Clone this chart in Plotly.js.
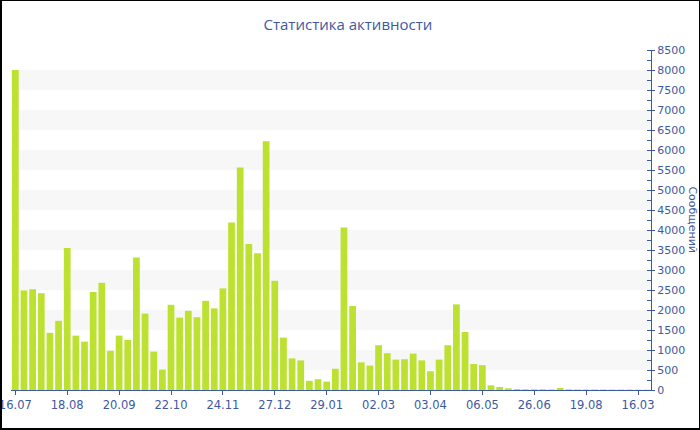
<!DOCTYPE html>
<html>
<head>
<meta charset="utf-8">
<script src="https://cdn.plot.ly/plotly-3.0.1.min.js"></script>
<style>
  html, body { margin: 0; padding: 0; background: #fff; }
  #wrap { position: relative; width: 700px; height: 430px; }
  #chart { width: 700px; height: 430px; }
  #frame { position: absolute; left: 0; top: 0; width: 700px; height: 430px; box-sizing: border-box;
           border: 1px solid #000; border-left-width: 2px; border-bottom-width: 2px; pointer-events: none; }
</style>
</head>
<body>
<div id="wrap"><div id="chart"></div><div id="frame"></div></div>
<script>
const chartTitle = "Статистика активности";
const yTitle = "Сообщений";
const tickLabels = ["16.07", "18.08", "20.09", "22.10", "24.11", "27.12", "29.01", "02.03", "03.04", "06.05", "26.06", "19.08", "16.03"];
const messages = [
  8000, 2490, 2520, 2420, 1430, 1730, 3550, 1360, 1210, 2450,
  2680, 980, 1360, 1250, 3310, 1910, 960, 510, 2130, 1810,
  1980, 1820, 2230, 2040, 2540, 4190, 5560, 3650, 3420, 6220,
  2730, 1310, 790, 740, 230, 270, 210, 530, 4060, 2100,
  690, 610, 1120, 920, 760, 770, 910, 740, 470, 760,
  1120, 2140, 1450, 650, 620, 117, 75, 42, 25, 20,
  18, 20, 15, 50, 18, 15, 15, 15, 15, 12,
  12, 12, 12, 10
];
const ticksEvery = 6;
const yMax = 8500;
const bandStep = 500;

const xIdx = messages.map((_, i) => i);
const tickVals = tickLabels.map((_, i) => i * ticksEvery);

const textColor = "#3d59a1";
const shapes = [];
for (let v = bandStep; v + bandStep <= yMax; v += 2 * bandStep) {
  shapes.push({type: "rect", xref: "paper", yref: "y", x0: 0, x1: 1, y0: v, y1: v + bandStep,
               fillcolor: "#f7f7f7", line: {width: 0}, layer: "below"});
}

const trace = {
  type: "bar", x: xIdx, y: messages,
  marker: {color: "#bde130", line: {width: 0}},
  hoverinfo: "skip"
};

const layout = {
  width: 700, height: 430,
  margin: {l: 11, r: 49, t: 50, b: 40},
  paper_bgcolor: "#fff", plot_bgcolor: "rgba(0,0,0,0)",
  showlegend: false,
  bargap: 0.22,
  title: {text: chartTitle, x: 0.497, xanchor: "center", y: 0.942, yanchor: "middle",
          font: {family: "Open Sans, sans-serif", size: 15, color: textColor}},
  xaxis: {
    type: "linear", range: [-0.5, messages.length - 0.5],
    tickmode: "array", tickvals: tickVals, ticktext: tickLabels,
    ticklabeloverflow: "allow",
    ticks: "outside", ticklen: 4, tickcolor: textColor,
    showline: true, linecolor: textColor, linewidth: 1,
    showgrid: false, zeroline: false,
    tickfont: {family: "DejaVu Sans, sans-serif", size: 11.5, color: textColor}
  },
  yaxis: {
    side: "right", range: [0, yMax], dtick: 500, tick0: 0,
    ticks: "outside", ticklen: 3, tickcolor: textColor,
    minor: {dtick: 250, ticks: "inside", ticklen: 4, tickcolor: textColor, showgrid: false},
    showline: true, linecolor: textColor, linewidth: 1,
    showgrid: false, zeroline: false,
    tickfont: {family: "DejaVu Sans, sans-serif", size: 11, color: textColor}
  },
  shapes: shapes,
  annotations: [{
    text: yTitle, xref: "paper", yref: "paper", x: 1.065, y: 0.5, xanchor: "center", yanchor: "middle",
    textangle: 90, showarrow: false,
    font: {family: "DejaVu Sans, sans-serif", size: 11, color: textColor}
  }]
};

Plotly.newPlot("chart", [trace], layout, {displayModeBar: false, staticPlot: true});
</script>
</body>
</html>
